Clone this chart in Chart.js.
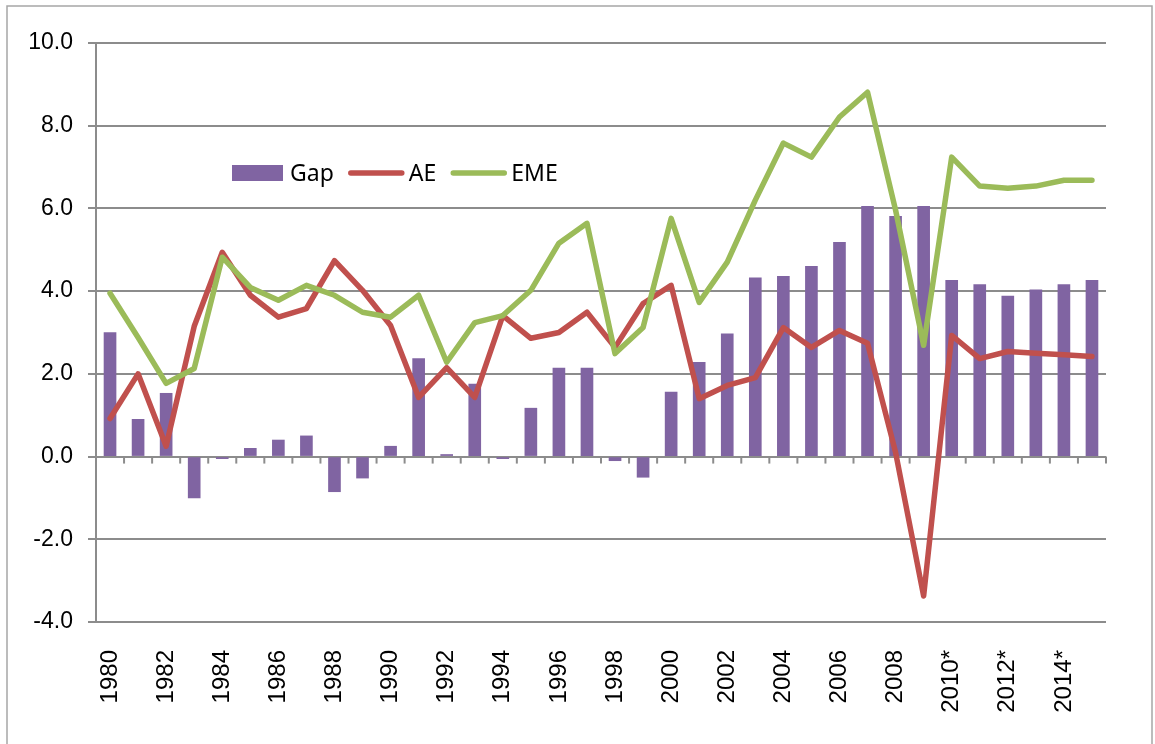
<!DOCTYPE html>
<html>
<head>
<meta charset="utf-8">
<script src="https://cdn.jsdelivr.net/npm/chart.js@4.4.1/dist/chart.umd.min.js"></script>
<style>
    html, body { margin: 0; padding: 0; background: #fff; }
    #wrap { width: 1155px; height: 744px; position: relative; }
</style>
</head>
<body>
<div id="wrap"><canvas id="gapChart" width="1155" height="744"></canvas></div>
<script>
// Years 1980-2015, projections from 2010 onwards marked with *
const years = ['1980', '1981', '1982', '1983', '1984', '1985', '1986', '1987', '1988', '1989',
    '1990', '1991', '1992', '1993', '1994', '1995', '1996', '1997', '1998', '1999',
    '2000', '2001', '2002', '2003', '2004', '2005', '2006', '2007', '2008', '2009',
    '2010*', '2011*', '2012*', '2013*', '2014*', '2015*'];

const gapValues = [3.0, 0.9, 1.53, -1.0, -0.05, 0.2, 0.4, 0.5, -0.85, -0.52,
    0.25, 2.37, 0.05, 1.75, -0.05, 1.17, 2.14, 2.14, -0.1, -0.5,
    1.56, 2.28, 2.97, 4.32, 4.36, 4.6, 5.18, 6.05, 5.81, 6.05,
    4.26, 4.16, 3.88, 4.03, 4.16, 4.26];

const aeValues = [0.92, 2.0, 0.25, 3.15, 4.94, 3.9, 3.37, 3.58, 4.74, 4.02,
    3.17, 1.43, 2.15, 1.43, 3.41, 2.86, 3.0, 3.49, 2.64, 3.7,
    4.14, 1.4, 1.72, 1.91, 3.12, 2.64, 3.05, 2.74, 0.1, -3.37,
    2.93, 2.37, 2.54, 2.5, 2.46, 2.42];

const emeValues = [3.95, 2.88, 1.77, 2.13, 4.82, 4.09, 3.78, 4.14, 3.9, 3.49,
    3.37, 3.9, 2.28, 3.24, 3.41, 4.02, 5.16, 5.64, 2.49, 3.12,
    5.76, 3.73, 4.7, 6.2, 7.58, 7.24, 8.21, 8.81, 5.96, 2.69,
    7.24, 6.54, 6.49, 6.54, 6.68, 6.68];

const yTicks = [-4, -2, 0, 2, 4, 6, 8, 10];

const gridColor = '#8c8c8c';

// frame round the whole chart, like the Excel chart border
const framePlugin = {
    id: 'frame',
    beforeDraw(chart) {
        const ctx = chart.ctx;
        ctx.save();
        ctx.strokeStyle = '#a6a6a6';
        ctx.lineWidth = 1.5;
        ctx.strokeRect(7, 6, 1145, 760);
        ctx.restore();
    }
};

// category tick marks sit on the zero line, labels stay at the bottom
const zeroTicksPlugin = {
    id: 'zeroTicks',
    beforeDatasetsDraw(chart) {
        const x = chart.scales.x;
        const y0 = chart.scales.y.getPixelForValue(0);
        const ctx = chart.ctx;
        ctx.save();
        ctx.strokeStyle = gridColor;
        ctx.lineWidth = 2;
        for (let i = 0; i <= years.length; i++) {
            let px;
            if (i === 0) px = chart.chartArea.left;
            else if (i === years.length) px = chart.chartArea.right;
            else px = (x.getPixelForValue(i - 1) + x.getPixelForValue(i)) / 2;
            ctx.beginPath();
            ctx.moveTo(px, y0);
            ctx.lineTo(px, y0 + 7);
            ctx.stroke();
        }
        ctx.restore();
    }
};

// legend drawn inside the plot, top left
const innerLegendPlugin = {
    id: 'innerLegend',
    afterDraw(chart) {
        const ctx = chart.ctx;
        const ds = chart.data.datasets;
        const cy = 173;
        ctx.save();
        ctx.font = '23px "Noto Sans", "Liberation Sans", sans-serif';
        ctx.textBaseline = 'middle';
        ctx.fillStyle = '#000';

        let cx = 232;
        ds.forEach(d => {
            if (d.type === 'bar') {
                ctx.fillStyle = d.backgroundColor;
                ctx.fillRect(cx, cy - 8, 51, 16);
                cx += 58;
            } else {
                ctx.strokeStyle = d.borderColor;
                ctx.lineWidth = 5.5;
                ctx.lineCap = 'round';
                ctx.beginPath();
                ctx.moveTo(cx + 2, cy);
                ctx.lineTo(cx + 53, cy);
                ctx.stroke();
                cx += 60;
            }
            ctx.fillStyle = '#000';
            ctx.fillText(d.label, cx, cy + 1);
            cx += ctx.measureText(d.label).width + 15;
        });
        ctx.restore();
    }
};

const ctx = document.getElementById('gapChart').getContext('2d');
const gapChart = new Chart(ctx, {
    data: {
        labels: years,
        datasets: [
            {
                type: 'bar',
                label: 'Gap',
                data: gapValues,
                backgroundColor: '#8064A2',
                barThickness: 12,
                order: 3
            },
            {
                type: 'line',
                label: 'AE',
                data: aeValues,
                borderColor: '#C0504D',
                borderWidth: 5.5,
                pointRadius: 0,
                tension: 0,
                borderJoinStyle: 'round',
                borderCapStyle: 'round',
                order: 2
            },
            {
                type: 'line',
                label: 'EME',
                data: emeValues,
                borderColor: '#9BBB59',
                borderWidth: 5.5,
                pointRadius: 0,
                tension: 0,
                borderJoinStyle: 'round',
                borderCapStyle: 'round',
                order: 1
            }
        ]
    },
    options: {
        responsive: false,
        animation: false,
        layout: {
            padding: { top: 43, right: 49, bottom: 0, left: 0 }
        },
        plugins: {
            legend: { display: false },
            tooltip: { enabled: false }
        },
        scales: {
            x: {
                grid: { display: false },
                border: { display: false },
                ticks: {
                    autoSkip: false,
                    maxRotation: 90,
                    minRotation: 90,
                    padding: 20,
                    color: '#000',
                    font: { family: '"Liberation Sans", Arial, sans-serif', size: 24 },
                    callback: function(value, index) {
                        return index % 2 === 0 ? years[index] : '';
                    }
                },
                afterFit: function(scale) { scale.height = 122; }
            },
            y: {
                min: -4,
                max: 10,
                afterBuildTicks: function(scale) {
                    scale.ticks = yTicks.map(v => ({ value: v }));
                },
                grid: {
                    color: gridColor,
                    lineWidth: 2,
                    drawTicks: true,
                    tickLength: 8
                },
                border: { display: true, color: gridColor, width: 2 },
                ticks: {
                    padding: 15,
                    color: '#000',
                    font: { family: '"Liberation Sans", Arial, sans-serif', size: 23 },
                    callback: function(value) { return Number(value).toFixed(1); }
                },
                afterFit: function(scale) { scale.width = 96; }
            }
        }
    },
    plugins: [framePlugin, zeroTicksPlugin, innerLegendPlugin]
});
</script>
</body>
</html>
